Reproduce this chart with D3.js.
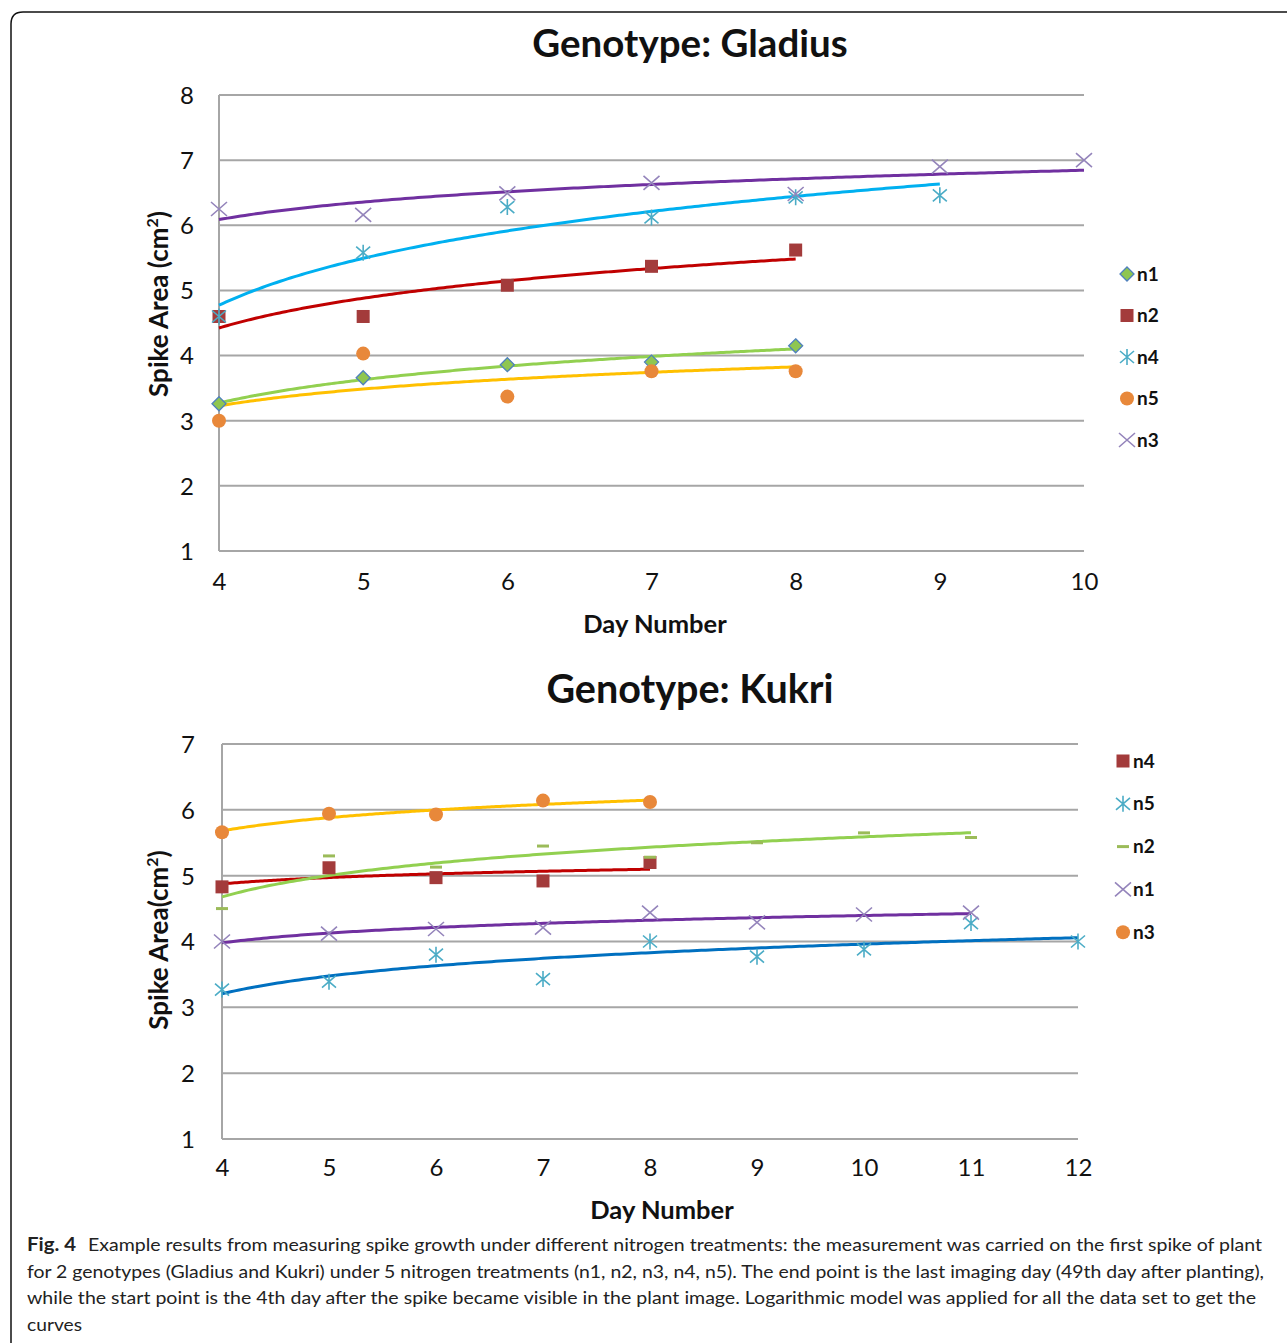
<!DOCTYPE html>
<html><head><meta charset="utf-8">
<script src="https://cdn.jsdelivr.net/npm/d3@7"></script>
<style>
body{margin:0;background:#fff;}
svg{display:block;}
text{font-family:Lato,"Open Sans",sans-serif;}
</style></head>
<body><svg id="fig" width="1287" height="1343"></svg>
<script>
// ---------- Data ----------
const gladiusDays = [4,5,6,7,8,9,10];
const gladiusYTicks = [1,2,3,4,5,6,7,8];
const gladiusN1 = [3.26, 3.66, 3.86, 3.90, 4.15];
const gladiusN2 = [4.60, 4.60, 5.08, 5.37, 5.62];
const gladiusN4 = [4.60, 5.58, 6.28, 6.12, 6.43, 6.46];
const gladiusN5 = [3.00, 4.03, 3.37, 3.76, 3.76];
const gladiusN3 = [6.25, 6.16, 6.49, 6.65, 6.48, 6.90, 7.00];
const gladiusLegend = ["n1","n2","n4","n5","n3"];

const kukriDays = [4,5,6,7,8,9,10,11,12];
const kukriYTicks = [1,2,3,4,5,6,7];
const kukriN4 = [4.83, 5.12, 4.97, 4.92, 5.20];
const kukriN5 = [3.27, 3.39, 3.80, 3.43, 4.00, 3.77, 3.88, 4.28, 4.00];
const kukriN2 = [4.50, 5.30, 5.13, 5.45, 5.28, 5.50, 5.65, 5.58];
const kukriN1 = [4.00, 4.12, 4.19, 4.21, 4.44, 4.29, 4.41, 4.44];
const kukriN3 = [5.66, 5.94, 5.93, 6.14, 6.12];
const kukriLegend = ["n4","n5","n2","n1","n3"];

const captionLines = [
  "Example results from measuring spike growth under different nitrogen treatments: the measurement was carried on the first spike of plant",
  "for 2 genotypes (Gladius and Kukri) under 5 nitrogen treatments (n1, n2, n3, n4, n5). The end point is the last imaging day (49th day after planting),",
  "while the start point is the 4th day after the spike became visible in the plant image. Logarithmic model was applied for all the data set to get the",
  "curves"
];

// ---------- Styles ----------
const svg = d3.select("#fig");
svg.append("path")
  .attr("d","M11,1400 L11,24 Q11,12 23,12 L1300,12")
  .attr("fill","none").attr("stroke","#111").attr("stroke-width",1.5);

const MK = {
  diamond:{fill:"#8fc650",stroke:"#4f81bd"},
  square:{fill:"#a33b3b",stroke:"#a33b3b"},
  aster:{stroke:"#4bacc6"},
  circle:{fill:"#e8883a"},
  cross:{stroke:"#9484bb"},
  dash:{stroke:"#9bbb59"}
};

function drawMarker(g, type, x, y){
  if(type==="diamond"){
    g.append("path").attr("d",`M${x},${y-7}L${x+7},${y}L${x},${y+7}L${x-7},${y}Z`)
      .attr("fill",MK.diamond.fill).attr("stroke",MK.diamond.stroke).attr("stroke-width",1.3);
  } else if(type==="square"){
    g.append("rect").attr("x",x-6.5).attr("y",y-6.5).attr("width",13).attr("height",13)
      .attr("fill",MK.square.fill);
  } else if(type==="circle"){
    g.append("circle").attr("cx",x).attr("cy",y).attr("r",7).attr("fill",MK.circle.fill);
  } else if(type==="aster"){
    g.append("path").attr("d",`M${x},${y-8}L${x},${y+8}M${x-7},${y-6}L${x+7},${y+6}M${x+7},${y-6}L${x-7},${y+6}`)
      .attr("stroke",MK.aster.stroke).attr("stroke-width",1.6).attr("fill","none");
  } else if(type==="cross"){
    g.append("path").attr("d",`M${x-8},${y-7}L${x+8},${y+7}M${x+8},${y-7}L${x-8},${y+7}`)
      .attr("stroke",MK.cross.stroke).attr("stroke-width",1.6).attr("fill","none");
  } else if(type==="dash"){
    g.append("line").attr("x1",x-6).attr("x2",x+6).attr("y1",y).attr("y2",y)
      .attr("stroke",MK.dash.stroke).attr("stroke-width",3);
  }
}

// logarithmic least-squares fit on category index (day - first day + 1)
function logFit(vals){
  const xs = vals.map((v,i)=>Math.log(i+1));
  const mx = d3.mean(xs), my = d3.mean(vals);
  let sxy=0,sxx=0;
  xs.forEach((x,i)=>{sxy+=(x-mx)*(vals[i]-my); sxx+=(x-mx)*(x-mx);});
  const b = sxy/sxx, a = my - b*mx;
  return t => a + b*Math.log(t);
}

function drawChart(cfg){
  const g = svg.append("g");
  const x = d3.scaleLinear().domain(d3.extent(cfg.days)).range([cfg.left,cfg.right]);
  const y = d3.scaleLinear().domain(d3.extent(cfg.yTicks)).range([cfg.bottom,cfg.top]);
  // gridlines
  g.append("g").selectAll("line").data(cfg.yTicks).join("line")
    .attr("x1",cfg.left).attr("x2",cfg.right)
    .attr("y1",d=>y(d)).attr("y2",d=>y(d))
    .attr("stroke","#a6a6a6").attr("stroke-width",2);
  g.append("line").attr("x1",cfg.left).attr("x2",cfg.left).attr("y1",cfg.top).attr("y2",cfg.bottom)
    .attr("stroke","#a6a6a6").attr("stroke-width",2);
  // y axis labels
  const ya = g.append("g").attr("transform",`translate(${cfg.left-cfg.yLabOff},0)`)
    .call(d3.axisLeft(y).tickValues(cfg.yTicks).tickSize(0).tickFormat(d3.format("d")));
  ya.select(".domain").remove();
  ya.selectAll("text").attr("font-size",24).attr("font-family","Lato").attr("fill","#111").attr("dy","0.35em");
  // x axis labels
  const xa = g.append("g").attr("transform",`translate(0,${cfg.xLabY})`)
    .call(d3.axisBottom(x).tickValues(cfg.days).tickSize(0).tickFormat(d3.format("d")));
  xa.select(".domain").remove();
  xa.selectAll("text").attr("font-size",24).attr("font-family","Lato").attr("fill","#111").attr("dy","0");
  // titles
  g.append("text").attr("x",cfg.titleX).attr("y",cfg.titleY).attr("text-anchor","middle")
    .attr("font-size",cfg.titleSize).attr("font-weight","bold").attr("fill","#111").text(cfg.title);
  g.append("text").attr("x",cfg.xTitleX).attr("y",cfg.xTitleY).attr("text-anchor","middle")
    .attr("font-size",25.5).attr("font-weight","bold").attr("fill","#111").text("Day Number");
  const yt = g.append("text").attr("transform",`translate(${cfg.yTitleX},${cfg.yTitleY}) rotate(-90)`)
    .attr("text-anchor","middle").attr("font-size",26).attr("font-weight","bold").attr("fill","#111");
  yt.append("tspan").text(cfg.yTitle);
  yt.append("tspan").attr("font-size",16).attr("dy",-10).text("2");
  yt.append("tspan").attr("dy",10).text(")");
  // trend lines
  const line = d3.line().x(d=>x(d[0])).y(d=>y(d[1]));
  cfg.series.forEach(s=>{
    const f = logFit(s.values);
    const n = s.values.length;
    const pts = d3.range(0,200+1).map(k=>{
      const t = 1 + (n-1)*k/200;
      return [cfg.days[0]+t-1, f(t)];
    });
    g.append("path").attr("d",line(pts)).attr("fill","none")
      .attr("stroke",s.lineColor).attr("stroke-width",3);
  });
  // markers
  cfg.series.forEach(s=>{
    s.values.forEach((v,i)=>drawMarker(g,s.marker,x(cfg.days[i]),y(v)));
  });
  // legend
  cfg.legend.forEach((name,i)=>{
    const s = cfg.series.find(q=>q.name===name);
    const ly = cfg.legY + i*cfg.legStep;
    drawMarker(g,s.marker,cfg.legX,ly);
    g.append("text").attr("x",cfg.legX+10).attr("y",ly).attr("dy","0.35em")
      .attr("font-size",19).attr("font-weight","bold").attr("fill","#111").text(name);
  });
}

drawChart({
  title:"Genotype: Gladius", titleX:690, titleY:57, titleSize:38.5,
  days:gladiusDays, yTicks:gladiusYTicks,
  left:219, right:1084, top:95, bottom:551, yLabOff:22, xLabY:587,
  xTitleX:655, xTitleY:633, yTitle:"Spike Area (cm", yTitleX:168, yTitleY:304,
  legX:1127, legY:274, legStep:41.5, legend:gladiusLegend,
  series:[
    {name:"n1",values:gladiusN1,marker:"diamond",lineColor:"#92d050"},
    {name:"n5",values:gladiusN5,marker:"circle",lineColor:"#ffc000"},
    {name:"n2",values:gladiusN2,marker:"square",lineColor:"#c00000"},
    {name:"n4",values:gladiusN4,marker:"aster",lineColor:"#00b0f0"},
    {name:"n3",values:gladiusN3,marker:"cross",lineColor:"#7030a0"}
  ]
});

drawChart({
  title:"Genotype: Kukri", titleX:690, titleY:703, titleSize:39.5,
  days:kukriDays, yTicks:kukriYTicks,
  left:222, right:1078, top:744, bottom:1139, yLabOff:24, xLabY:1173,
  xTitleX:662, xTitleY:1219, yTitle:"Spike Area(cm", yTitleX:168, yTitleY:940,
  legX:1123, legY:761, legStep:42.8, legend:kukriLegend,
  series:[
    {name:"n5",values:kukriN5,marker:"aster",lineColor:"#0070c0"},
    {name:"n1",values:kukriN1,marker:"cross",lineColor:"#7030a0"},
    {name:"n4",values:kukriN4,marker:"square",lineColor:"#c00000"},
    {name:"n2",values:kukriN2,marker:"dash",lineColor:"#92d050"},
    {name:"n3",values:kukriN3,marker:"circle",lineColor:"#ffc000"}
  ]
});

// caption
const cap = svg.append("g").attr("font-family","'Open Sans',sans-serif").attr("fill","#222");
const capY = [1251, 1278, 1304, 1331];
cap.append("text").attr("x",27).attr("y",capY[0]).attr("font-size",18).attr("font-weight","bold")
  .attr("textLength",49).attr("lengthAdjust","spacingAndGlyphs").text("Fig. 4");
const capEnds = [1262, 1264, 1256, null];
captionLines.forEach((t,i)=>{
  const x0 = i===0 ? 88 : 27;
  const tx = cap.append("text").attr("x",x0).attr("y",capY[i]).attr("font-size",18).text(t);
  if(capEnds[i]) tx.attr("textLength",capEnds[i]-x0).attr("lengthAdjust","spacingAndGlyphs");
  else tx.attr("textLength",55).attr("lengthAdjust","spacingAndGlyphs");
});
</script></body></html>
